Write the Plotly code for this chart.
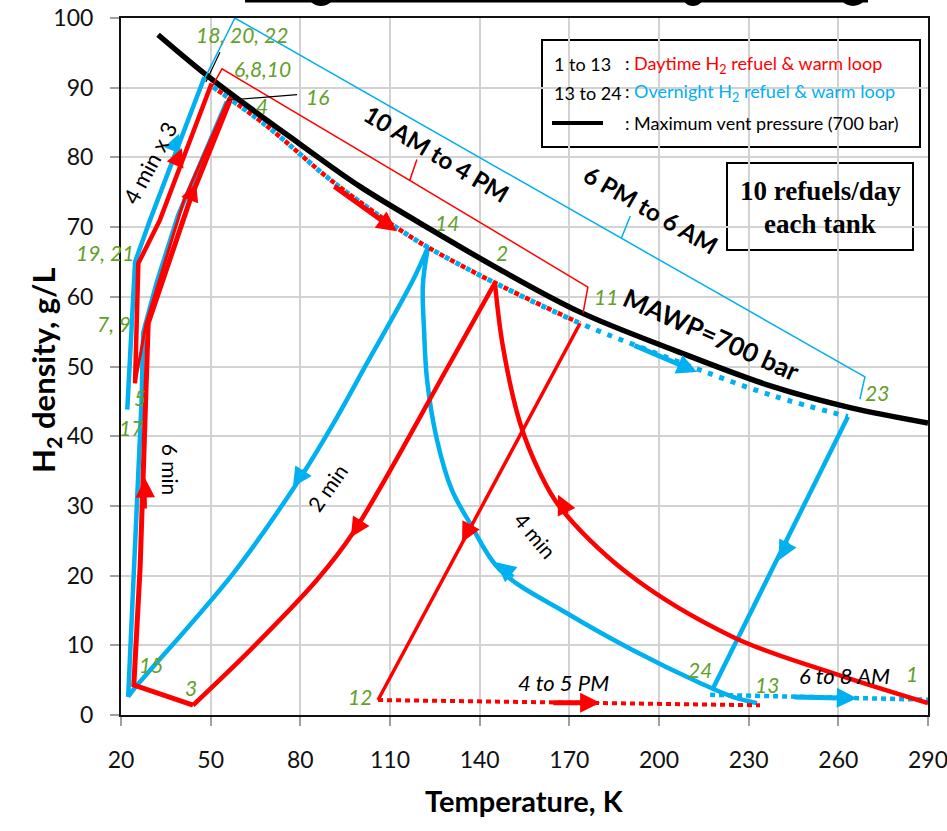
import plotly.graph_objects as go

# ---------------- data (temperature K, H2 density g/L) ----------------
mawp_T   = [32.4, 49.8, 79.9, 100.0, 126.7, 146.8, 173.6, 204.7, 238.1, 263.9, 290.0]
mawp_rho = [97.6, 91.4, 81.9, 75.8, 68.9, 63.9, 57.8, 52.4, 47.1, 44.1, 41.9]

warm_T   = [50.8, 68.8, 90.9, 112.3, 122.7, 145.1, 173.6, 193.6, 213.7, 238.1, 263.2]
warm_rho = [90.1, 84.5, 76.5, 69.9, 67.1, 62.0, 56.2, 52.8, 49.5, 45.8, 42.8]
warm_day_n = 7  # daytime warm-up ends at point 11

# daytime loop (1 -> 13), red
d12_T   = [290.0, 258.2, 224.7, 189.3, 166.9, 160.2, 153.5, 147.8, 145.1]
d12_rho = [1.7, 6.0, 11.2, 20.4, 29.8, 34.7, 41.9, 52.8, 62.0]
d23_T   = [145.1, 130.1, 97.6, 85.6, 63.2, 44.1]
d23_rho = [62.0, 50.5, 26.1, 19.4, 9.3, 1.4]
d34_T   = [44.1, 24.3, 26.4, 28.2, 29.1, 43.1, 56.5]
d34_rho = [1.4, 4.3, 21.2, 45.2, 56.2, 73.9, 88.2]
d45_T   = [55.8, 41.1, 28.4, 24.7]
d45_rho = [88.2, 73.9, 56.2, 47.6]
d510_T   = [24.7, 25.2, 25.8, 33.0, 50.3]
d510_rho = [47.6, 58.1, 64.8, 71.0, 90.6]
d1112_T   = [173.6, 106.0]
d1112_rho = [56.2, 2.15]
d1213_T   = [106.0, 233.8]
d1213_rho = [2.15, 1.4]

# overnight loop (13 -> 24), blue
n1314_T   = [232.8, 224.7, 213.7, 191.3, 169.2, 146.8, 136.8, 130.7, 125.7, 122.4, 121.4, 121.0, 122.7]
n1314_rho = [1.7, 2.6, 4.6, 9.3, 14.6, 20.8, 27.5, 32.3, 39.5, 48.1, 55.2, 61.7, 67.1]
n1415_T   = [122.8, 117.7, 102.2, 90.9, 78.9, 57.5, 24.1, 22.4]
n1415_rho = [67.2, 62.4, 50.4, 41.7, 33.3, 20.3, 3.6, 2.6]
n1516_T   = [22.4, 26.9, 27.4, 31.9, 39.1, 55.4]
n1516_rho = [2.6, 45.2, 54.8, 62.0, 71.7, 88.0]
n1722_T   = [22.1, 24.7, 29.7, 47.9]
n1722_rho = [43.8, 65.0, 71.0, 91.5]
n2324_T   = [263.2, 217.8]
n2324_rho = [42.8, 3.6]
n241_T    = [217.1, 290.0]
n241_rho  = [2.9, 2.2]

# state point labels: (label, T, rho, anchor)
point_labels = [
    ("18, 20, 22", 60.5, 97.7, "center"), ("6,8,10", 67.2, 92.8, "center"),
    ("4", 67.2, 87.5, "center"), ("16", 85.6, 88.7, "center"),
    ("19, 21", 24.9, 66.4, "right"), ("7, 9", 23.9, 56.2, "right"),
    ("5", 26.4, 45.6, "center"), ("17", 23.3, 41.3, "center"),
    ("15", 30.0, 7.2, "center"), ("3", 43.4, 4.0, "center"),
    ("12", 100.0, 2.6, "center"), ("14", 129.1, 70.7, "center"),
    ("2", 147.5, 66.4, "center"), ("11", 182.3, 60.0, "center"),
    ("23", 272.9, 46.2, "center"), ("24", 213.7, 6.6, "center"),
    ("13", 236.1, 4.4, "center"), ("1", 284.6, 5.9, "center"),
]

x_ticks = [20, 50, 80, 110, 140, 170, 200, 230, 260, 290]
y_ticks = [0, 10, 20, 30, 40, 50, 60, 70, 80, 90, 100]

RED = "#ff0000"
BLUE = "#00b0f0"
GREEN = "#62a02a"
W, H = 947, 831
L, R, T, B = 121, 19, 18, 116


def pxx(p):
    return (p - L) / (W - L - R)


def pxy(p):
    return (H - B - p) / (H - B - T)


fig = go.Figure()


def line(xs, ys, color, width, dash="solid", shape="linear", smoothing=1.0):
    fig.add_trace(go.Scatter(x=xs, y=ys, mode="lines", hoverinfo="skip",
                             line=dict(color=color, width=width, dash=dash, shape=shape,
                                       smoothing=smoothing)))


# blue loop
line(n1314_T, n1314_rho, BLUE, 4.5, shape="spline")
line(n1415_T, n1415_rho, BLUE, 4.5, shape="spline")
line(n1516_T, n1516_rho, BLUE, 4.5)
line(n1722_T, n1722_rho, BLUE, 4.5)
line(n2324_T, n2324_rho, BLUE, 4.5)
line(n241_T, n241_rho, BLUE, 4.5, dash="5px,4px")

# red loop
line(d12_T, d12_rho, RED, 4.5, shape="spline")
line(d23_T, d23_rho, RED, 4.5, shape="spline")
line(d45_T, d45_rho, RED, 3)
line(d34_T, d34_rho, RED, 5)
line(d510_T, d510_rho, RED, 4.5)
line(d1112_T, d1112_rho, RED, 3.5)
line(d1213_T, d1213_rho, RED, 4, dash="5px,4px")

# warm-up along vent limit (interleaved dots)
line(warm_T, warm_rho, BLUE, 5, dash="5px,7px", shape="spline")
line(warm_T[:warm_day_n], warm_rho[:warm_day_n], RED, 4.5, dash="0px,6px,5px,1px", shape="spline")

# maximum vent pressure
line(mawp_T, mawp_rho, "#000000", 5.5, shape="spline")

# brackets and leaders
line([50.4, 53.8, 116.6, 119.0, 116.6, 176.2, 174.6],
     [90.1, 92.7, 76.7, 79.7, 76.7, 61.4, 57.7], RED, 1.5)
line([48.1, 58.1, 187.4, 190.4, 187.4, 268.9, 267.2],
     [91.4, 100.0, 68.4, 71.6, 68.4, 48.5, 45.3], BLUE, 1.5)
line([53.1, 48.4], [95.1, 90.8], "#000000", 1.2)
line([78.9, 55.5], [89.0, 88.2], "#000000", 1.2)

# flow arrows: (tail T, tail rho, head T, head rho, color, width, size)
arrows = [
    (169.5, 28.7, 166.2, 31.6, RED, 3, 1.3),
    (101.6, 28.7, 96.9, 25.5, RED, 3, 1.3),
    (137.4, 27.5, 134.1, 24.8, RED, 3, 1.3),
    (151.8, 19.7, 145.5, 21.9, BLUE, 3, 1.3),
    (81.6, 35.4, 77.5, 32.7, BLUE, 3, 1.3),
    (243.5, 25.0, 240.1, 22.2, BLUE, 3, 1.3),
    (28.2, 29.4, 28.0, 34.0, RED, 3, 1.3),
    (37.1, 80.8, 39.4, 83.4, BLUE, 3, 1.2),
    (38.1, 78.9, 40.4, 81.3, RED, 3, 1.2),
    (43.1, 74.0, 45.1, 76.3, RED, 3, 1.2),
    (90.9, 76.0, 112.3, 69.4, RED, 5, 0.8),
    (191.3, 53.1, 212.7, 49.2, BLUE, 5, 0.8),
    (164.2, 1.75, 180.3, 1.75, RED, 5, 0.8),
    (244.8, 2.6, 266.2, 2.4, BLUE, 5, 0.8),
]

ann = []
for tx, ty, hx, hy, c, w, s in arrows:
    ann.append(dict(x=hx, y=hy, ax=tx, ay=ty, xref="x", yref="y", axref="x", ayref="y",
                    showarrow=True, arrowhead=2, arrowsize=s, arrowwidth=w,
                    arrowcolor=c, text="", standoff=0))

for txt, tx, ty, anc in point_labels:
    ann.append(dict(x=tx, y=ty, xref="x", yref="y", text="<i>%s</i>" % txt, showarrow=False,
                    xanchor=anc, yanchor="middle",
                    font=dict(family="Lato", size=21, color=GREEN)))

notes = [
    ("4 min x 3", 29.7, 79.3, -62, 22, False, False),
    ("6 min", 36.4, 35.2, 90, 21, False, False),
    ("2 min", 88.9, 32.7, -55, 21, False, False),
    ("4 min", 158.8, 25.8, 50, 21, False, False),
    ("4 to 5 PM", 168.2, 4.6, 0, 22, False, True),
    ("6 to 8 AM", 261.9, 5.6, 0, 22, False, True),
    ("10 AM to 4 PM", 125.7, 80.6, 31, 24, True, False),
    ("6 PM to 6 AM", 197.3, 72.5, 30, 24, True, False),
    ("MAWP=700 bar", 217.4, 54.7, 24, 26, True, False),
]
for txt, tx, ty, ang, sz, bold, ital in notes:
    t = txt
    if bold:
        t = "<b>%s</b>" % t
    if ital:
        t = "<i>%s</i>" % t
    ann.append(dict(x=tx, y=ty, xref="x", yref="y", text=t, showarrow=False,
                    textangle=ang, xanchor="center", yanchor="middle",
                    font=dict(family="Lato", size=sz, color="#000000")))

# legend box text
leg_font = dict(family="Lato", size=18, color="#000000")
ann += [
    dict(x=pxx(552), y=pxy(64), xref="paper", yref="paper", text="1 to 13", showarrow=False,
         xanchor="left", yanchor="middle", font=leg_font),
    dict(x=pxx(623), y=pxy(64), xref="paper", yref="paper",
         text=": <span style='color:%s'>Daytime H<sub>2</sub> refuel &amp; warm loop</span>" % RED,
         showarrow=False, xanchor="left", yanchor="middle", font=leg_font),
    dict(x=pxx(552), y=pxy(93), xref="paper", yref="paper", text="13 to 24", showarrow=False,
         xanchor="left", yanchor="middle", font=leg_font),
    dict(x=pxx(623), y=pxy(93), xref="paper", yref="paper",
         text=": <span style='color:%s'>Overnight H<sub>2</sub> refuel &amp; warm loop</span>" % BLUE,
         showarrow=False, xanchor="left", yanchor="middle", font=leg_font),
    dict(x=pxx(623), y=pxy(123), xref="paper", yref="paper",
         text=": Maximum vent pressure (700 bar)",
         showarrow=False, xanchor="left", yanchor="middle", font=leg_font),
    dict(x=pxx(820), y=pxy(191), xref="paper", yref="paper", text="<b>10 refuels/day</b>",
         showarrow=False, xanchor="center", yanchor="middle",
         font=dict(family="Liberation Serif", size=27, color="#000000")),
    dict(x=pxx(820), y=pxy(224), xref="paper", yref="paper", text="<b>each tank</b>",
         showarrow=False, xanchor="center", yanchor="middle",
         font=dict(family="Liberation Serif", size=27, color="#000000")),
    dict(x=0.5, y=pxy(800), xref="paper", yref="paper", text="<b>Temperature, K</b>",
         showarrow=False, xanchor="center", yanchor="middle",
         font=dict(family="Lato", size=29, color="#000000")),
    dict(x=pxx(45), y=pxy(370), xref="paper", yref="paper", text="<b>H<sub>2</sub> density, g/L</b>",
         showarrow=False, xanchor="center", yanchor="middle", textangle=-90,
         font=dict(family="Lato", size=31, color="#000000")),
]

shapes = [
    dict(type="rect", xref="paper", yref="paper", x0=pxx(542), x1=pxx(920), y0=pxy(40), y1=pxy(147),
         line=dict(color="#000000", width=2), fillcolor="white", layer="below"),
    dict(type="line", xref="paper", yref="paper", x0=pxx(552), x1=pxx(603), y0=pxy(123), y1=pxy(123),
         line=dict(color="#000000", width=4)),
    dict(type="rect", xref="paper", yref="paper", x0=pxx(727), x1=pxx(913), y0=pxy(163), y1=pxy(250),
         line=dict(color="#000000", width=2), fillcolor="white", layer="below"),
    # cropped title remnant at the very top
    dict(type="rect", xref="paper", yref="paper", x0=pxx(245), x1=pxx(868), y0=pxy(2.5), y1=pxy(-3),
         line=dict(width=0), fillcolor="#000000"),
]
for cx, r in [(321, 14), (693, 11), (853, 15)]:
    shapes.append(dict(type="circle", xref="paper", yref="paper", x0=pxx(cx - r), x1=pxx(cx + r),
                       y0=pxy(6), y1=pxy(6 - 2 * r), line=dict(width=0), fillcolor="#000000"))

axis_common = dict(showgrid=True, gridcolor="#d2d2d2", gridwidth=1.5, zeroline=False,
                   showline=True, linecolor="#111111", linewidth=2, mirror=True,
                   ticks="outside", ticklen=9, tickwidth=1.5, tickcolor="#a0a0a0",
                   ticklabeloverflow="allow",
                   tickfont=dict(family="Lato", size=23, color="#111111"), automargin=False)

fig.update_layout(
    width=W, height=H, margin=dict(l=L, r=R, t=T, b=B),
    paper_bgcolor="white", plot_bgcolor="white", showlegend=False,
    xaxis=dict(range=[20, 290], tickvals=x_ticks, ticklabelstandoff=14, **axis_common),
    yaxis=dict(range=[0, 100], tickvals=y_ticks, ticklabelstandoff=12, **axis_common),
    annotations=ann, shapes=shapes,
)

fig.write_html("out.html")
